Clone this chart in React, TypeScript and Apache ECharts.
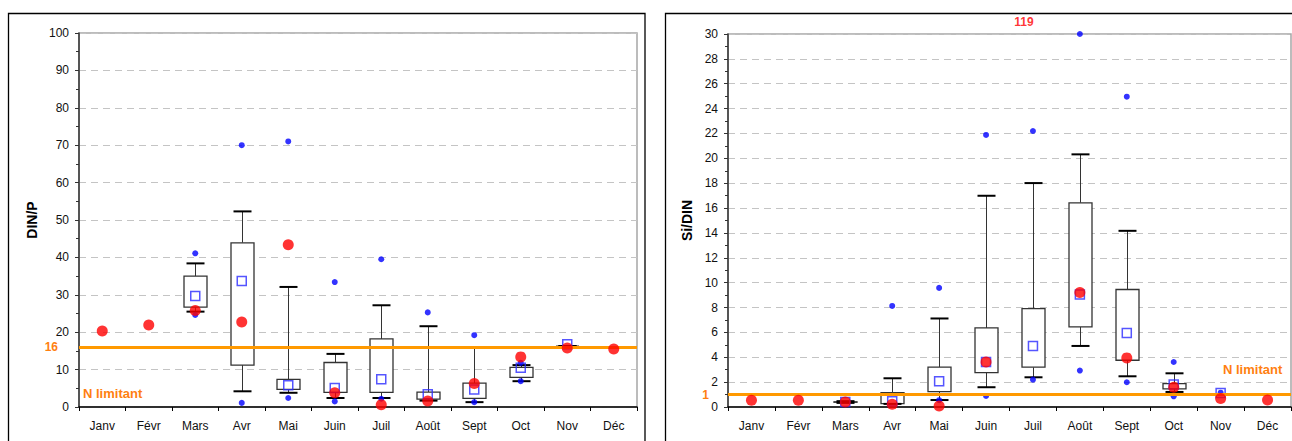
import React, { useEffect, useRef } from "react";
import * as echarts from "echarts";

// Month categories shared by both panels
const MONTHS = ["Janv", "Févr", "Mars", "Avr", "Mai", "Juin", "Juil", "Août", "Sept", "Oct", "Nov", "Déc"];

// ---- DIN/P panel ----
const dinpLow = [null, null, 25.5, 4.2, 3.8, 2.4, 2.4, 1.7, 1.3, 6.9, 16.3, null];
const dinpQ1 = [null, null, 26.7, 11.2, 4.7, 3.9, 3.9, 2.1, 2.3, 7.9, 16.3, null];
const dinpQ3 = [null, null, 35.0, 43.9, 7.4, 11.9, 18.2, 4.0, 6.4, 10.6, 16.3, null];
const dinpHigh = [null, null, 38.4, 52.3, 32.1, 14.2, 27.2, 21.6, 16.0, 11.2, 16.3, null];
const dinpMean = [null, null, 29.7, 33.7, 5.8, 5.1, 7.4, 3.4, 4.7, 10.5, 16.8, null];
const dinpYear = [20.3, 21.9, 25.8, 22.7, 43.4, 3.8, 0.6, 1.6, 6.3, 13.4, 15.8, 15.5];
const dinpOutHigh = [null, null, 41.1, 70.0, 71.0, 33.4, 39.5, 25.3, 19.2, 11.8, null, null];
const dinpOutLow = [null, null, 24.6, 1.1, 2.4, 1.5, 2.2, null, 1.3, 6.9, null, null];
const dinpThreshold = 16;
const dinpTicks = { min: 0, max: 100, interval: 10 };

// ---- Si/DIN panel ----
const sidinLow = [null, null, 0.33, 0.25, 0.56, 1.59, 2.39, 4.91, 2.47, 1.21, null, null];
const sidinQ1 = [null, null, 0.38, 0.27, 1.24, 2.77, 3.2, 6.44, 3.76, 1.45, null, null];
const sidinQ3 = [null, null, 0.42, 1.16, 3.2, 6.36, 7.92, 16.42, 9.45, 1.88, null, null];
const sidinHigh = [null, null, 0.47, 2.31, 7.12, 16.99, 18.01, 20.32, 14.17, 2.71, null, null];
const sidinMean = [null, null, 0.4, 0.46, 2.07, 3.62, 4.91, 9.05, 5.96, 1.8, 1.13, null];
const sidinYear = [0.54, 0.54, 0.4, 0.22, 0.08, 3.62, null, 9.21, 3.95, 1.59, 0.68, 0.56];
const sidinOutHigh = [null, null, null, 8.13, 9.58, 21.88, 22.2, 119, 24.96, 3.62, null, null];
const sidinOutLow = [null, null, null, null, 0.55, 0.89, 2.2, 2.93, 1.99, 0.86, 1.15, null];
const sidinThreshold = 1;
const sidinTicks = { min: 0, max: 30, interval: 2 };

const FONT = "'Liberation Sans', Arial, sans-serif";
const ORANGE_LINE = "#ff9900";
const ORANGE_TEXT = "#ff7f10";

type Num = number | null;

function boxRows(low: Num[], q1: Num[], q3: Num[], high: Num[]) {
  const rows: number[][] = [];
  low.forEach((v, i) => {
    if (v != null && q1[i] != null && q3[i] != null && high[i] != null) {
      rows.push([i, v, q1[i] as number, q3[i] as number, high[i] as number]);
    }
  });
  return rows;
}

// Values above the axis maximum are pinned to the top edge; the true value is kept for the label
function pointRows(vals: Num[], max: number) {
  const rows: any[] = [];
  vals.forEach((v, i) => {
    if (v != null) {
      rows.push({ value: [i, Math.min(v, max)], raw: v, clipped: v > max });
    }
  });
  return rows;
}

const renderBox = (params: any, api: any) => {
  const i = api.value(0);
  const lo = api.coord([i, api.value(1)]);
  const b1 = api.coord([i, api.value(2)]);
  const b3 = api.coord([i, api.value(3)]);
  const hi = api.coord([i, api.value(4)]);
  const cx = Math.round(lo[0]) + 0.5;
  const half = 11.5;
  const cap = 9;
  const stroke = "#333";
  return {
    type: "group",
    children: [
      { type: "line", shape: { x1: cx, y1: hi[1], x2: cx, y2: b3[1] }, style: { stroke, lineWidth: 1 } },
      { type: "line", shape: { x1: cx, y1: b1[1], x2: cx, y2: lo[1] }, style: { stroke, lineWidth: 1 } },
      {
        type: "rect",
        shape: { x: cx - half, y: b3[1], width: half * 2, height: Math.max(b1[1] - b3[1], 0) },
        style: { fill: "#fff", stroke, lineWidth: 1.3 },
      },
      { type: "line", shape: { x1: cx - cap, y1: hi[1], x2: cx + cap, y2: hi[1] }, style: { stroke: "#000", lineWidth: 2 } },
      { type: "line", shape: { x1: cx - cap, y1: lo[1], x2: cx + cap, y2: lo[1] }, style: { stroke: "#000", lineWidth: 2 } },
    ],
  };
};

function xAxisFor(gridIndex: number) {
  return {
    type: "category",
    gridIndex,
    data: MONTHS,
    boundaryGap: true,
    axisLine: { show: true, lineStyle: { color: "#000", width: 1.5 } },
    axisTick: { show: true, length: 4, lineStyle: { color: "#000", width: 1 } },
    axisLabel: { color: "#111", fontFamily: FONT, fontSize: 12, margin: 13, interval: 0 },
    splitLine: { show: false },
  };
}

function yAxisFor(gridIndex: number, t: { min: number; max: number; interval: number }, name: string, nameGap: number) {
  return {
    type: "value",
    gridIndex,
    min: t.min,
    max: t.max,
    interval: t.interval,
    name,
    nameLocation: "middle",
    nameGap,
    nameTextStyle: { fontFamily: FONT, fontSize: 14, fontWeight: "bold", color: "#000" },
    axisLine: { show: true, lineStyle: { color: "#333", width: 1.5 } },
    axisTick: { show: true, length: 4, lineStyle: { color: "#333", width: 1 } },
    minorTick: { show: true, splitNumber: 2, length: 3, lineStyle: { color: "#333", width: 1 } },
    axisLabel: { color: "#111", fontFamily: FONT, fontSize: 12, margin: 10 },
    splitLine: { show: true, lineStyle: { color: "#c4c4c4", width: 1, type: [7, 5] } },
  };
}

function panelSeries(
  gi: number,
  max: number,
  low: Num[], q1: Num[], q3: Num[], high: Num[],
  mean: Num[], year: Num[], outHigh: Num[], outLow: Num[],
  threshold: number,
  thresholdDistance: number
) {
  return [
    {
      type: "custom",
      xAxisIndex: gi,
      yAxisIndex: gi,
      z: 2,
      renderItem: renderBox,
      encode: { x: 0, y: [1, 2, 3, 4] },
      data: boxRows(low, q1, q3, high),
      silent: true,
    },
    {
      type: "scatter",
      xAxisIndex: gi,
      yAxisIndex: gi,
      z: 3,
      clip: false,
      symbol: "circle",
      symbolSize: 6,
      itemStyle: { color: "#0000ff" },
      data: [...pointRows(outHigh, max), ...pointRows(outLow, max)],
      label: {
        show: true,
        formatter: (p: any) => (p.data.clipped ? String(p.data.raw) : ""),
        position: "top",
        offset: [-56, 2],
        color: "#ff0000",
        fontFamily: FONT,
        fontSize: 12,
        fontWeight: "bold",
      },
      markLine: {
        silent: true,
        symbol: ["none", "none"],
        lineStyle: { color: ORANGE_LINE, width: 3, type: "solid" },
        label: {
          show: true,
          position: "start",
          distance: thresholdDistance,
          formatter: "{c}",
          color: ORANGE_TEXT,
          fontFamily: FONT,
          fontSize: 12,
          fontWeight: "bold",
        },
        data: [{ yAxis: threshold }],
      },
    },
    {
      type: "scatter",
      xAxisIndex: gi,
      yAxisIndex: gi,
      z: 4,
      clip: false,
      symbol: "rect",
      symbolSize: 9,
      itemStyle: { color: "rgba(0,0,0,0)", borderColor: "#2a2aff", borderWidth: 1.5 },
      data: pointRows(mean, max),
    },
    {
      type: "scatter",
      xAxisIndex: gi,
      yAxisIndex: gi,
      z: 5,
      clip: false,
      symbol: "circle",
      symbolSize: 11,
      itemStyle: { color: "#ff0000" },
      data: pointRows(year, max),
    },
  ];
}

export default function App() {
  const ref = useRef<HTMLDivElement>(null);

  useEffect(() => {
    if (!ref.current) return;
    const chart = echarts.init(ref.current, null, { renderer: "svg" });
    const gridBorder = { show: true, borderColor: "#a6a6a6", borderWidth: 1.5, backgroundColor: "#fff" };
    const noteStyle = {
      text: "N limitant",
      fill: ORANGE_TEXT,
      font: `bold 13px ${FONT}`,
      verticalAlign: "middle",
    };

    chart.setOption({
      animation: false,
      backgroundColor: "#fff",
      grid: [
        { left: 79, top: 33, width: 558, height: 374, ...gridBorder },
        { left: 728, top: 34, width: 563, height: 373, ...gridBorder },
      ],
      xAxis: [xAxisFor(0), xAxisFor(1)],
      yAxis: [yAxisFor(0, dinpTicks, "DIN/P", 40), yAxisFor(1, sidinTicks, "Si/DIN", 34)],
      series: [
        ...panelSeries(0, dinpTicks.max, dinpLow, dinpQ1, dinpQ3, dinpHigh, dinpMean, dinpYear, dinpOutHigh, dinpOutLow, dinpThreshold, 21),
        ...panelSeries(1, sidinTicks.max, sidinLow, sidinQ1, sidinQ3, sidinHigh, sidinMean, sidinYear, sidinOutHigh, sidinOutLow, sidinThreshold, 19),
      ],
      graphic: [
        {
          type: "rect",
          z: -10,
          shape: { x: 8.5, y: 13.5, width: 636.5, height: 460 },
          style: { fill: "none", stroke: "#000", lineWidth: 1.3 },
          silent: true,
        },
        {
          type: "rect",
          z: -10,
          shape: { x: 665.5, y: 13.5, width: 700, height: 460 },
          style: { fill: "none", stroke: "#000", lineWidth: 1.3 },
          silent: true,
        },
        { type: "text", z: 10, x: 83, y: 393, style: noteStyle },
        { type: "text", z: 10, x: 1223, y: 369, style: noteStyle },
      ],
    });

    return () => chart.dispose();
  }, []);

  return (
    <div
      ref={ref}
      style={{ position: "fixed", left: 0, top: 0, width: 1292, height: 441, background: "#fff" }}
    />
  );
}
